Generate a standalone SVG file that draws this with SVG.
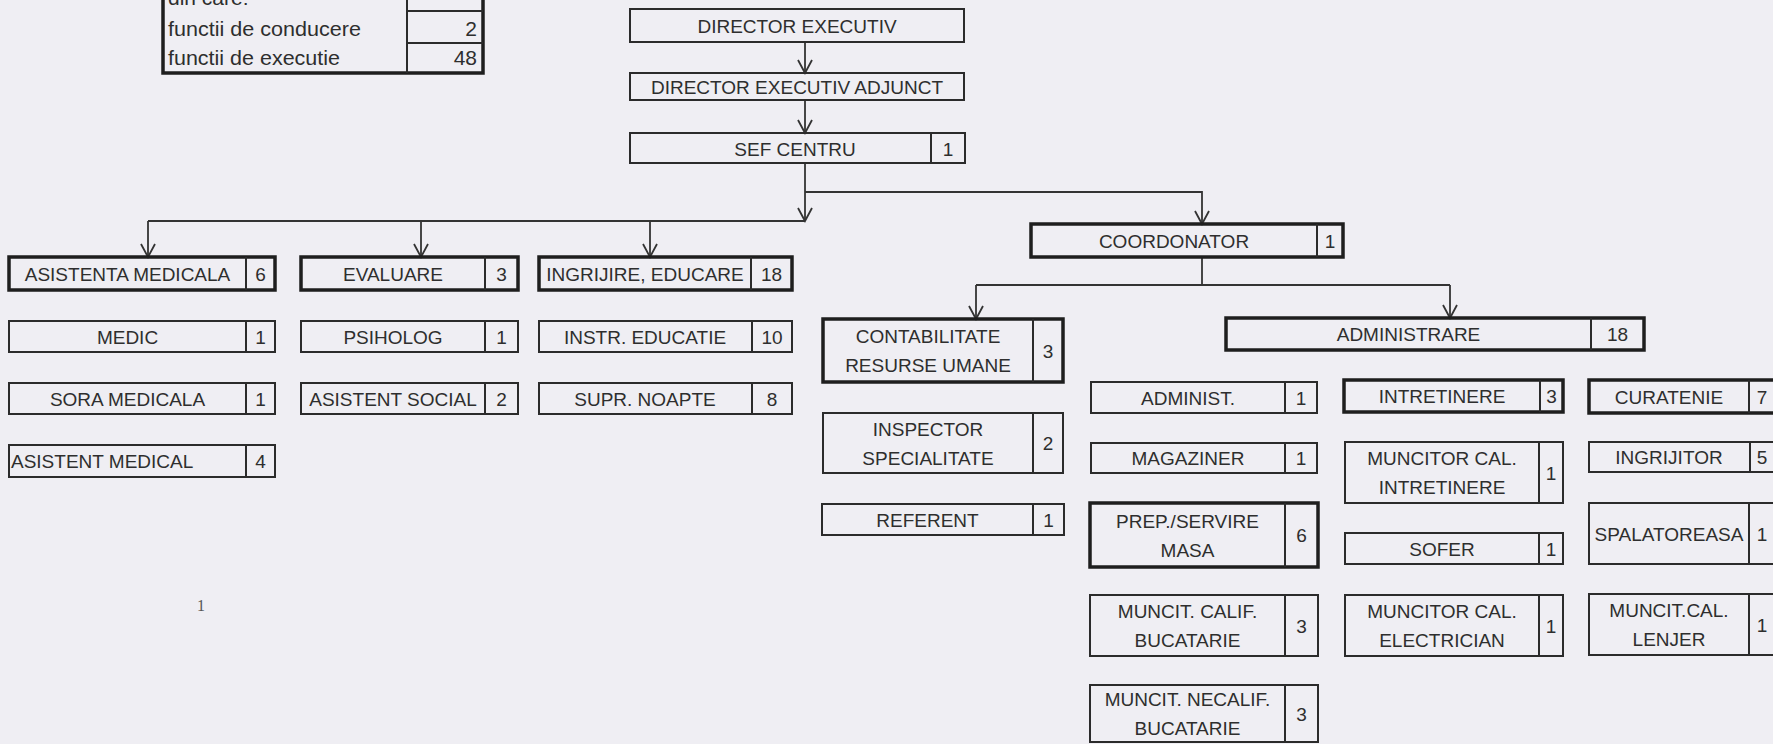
<svg xmlns="http://www.w3.org/2000/svg" width="1773" height="744" viewBox="0 0 1773 744">
<defs>
<style>
.bg{fill:#efeef3}
.thin{fill:none;stroke:#2b2b2b;stroke-width:2}
.thick{fill:none;stroke:#1e1e1e;stroke-width:3.5}
.div{stroke:#2b2b2b;stroke-width:2}
.t{font-family:"Liberation Sans",Arial,sans-serif;font-size:19px;fill:#2e2e2e;text-anchor:middle}
.l{text-anchor:start}
.tb{font-family:"Liberation Sans",Arial,sans-serif;font-size:21px;fill:#2e2e2e}
.r{text-anchor:end}
.con{fill:none;stroke:#333;stroke-width:1.8}
.pg{font-family:"Liberation Serif",serif;font-size:16px;fill:#555;text-anchor:middle}
</style>
<marker id="arr" viewBox="-15 -9 17 18" refX="0" refY="0" markerWidth="17" markerHeight="18" markerUnits="userSpaceOnUse" orient="auto">
<path d="M-13,-7 L0,0 L-13,7" fill="none" stroke="#333" stroke-width="1.8"/>
</marker>
</defs>
<rect class="bg" x="0" y="0" width="1773" height="744"/>

<g id="summary-table">
<rect class="thick" x="163" y="-10" width="320" height="83"/>
<line class="div" x1="407" y1="-10" x2="407" y2="73"/>
<line class="div" x1="407" y1="11" x2="483" y2="11"/>
<line class="div" x1="407" y1="43" x2="483" y2="43"/>
<text class="tb" x="168" y="5">din care:</text>
<text class="tb" x="168" y="36" textLength="193" lengthAdjust="spacingAndGlyphs">functii de conducere</text>
<text class="tb r" x="477" y="36">2</text>
<text class="tb" x="168" y="65" textLength="172" lengthAdjust="spacingAndGlyphs">functii de executie</text>
<text class="tb r" x="477" y="65">48</text>
</g>

<g id="connectors">
<line class="con" x1="805" y1="42" x2="805" y2="73" marker-end="url(#arr)"/>
<line class="con" x1="805" y1="100" x2="805" y2="133" marker-end="url(#arr)"/>
<line class="con" x1="805" y1="163" x2="805" y2="221" marker-end="url(#arr)"/>
<line class="con" x1="148" y1="221" x2="805" y2="221"/>
<line class="con" x1="148" y1="221" x2="148" y2="257" marker-end="url(#arr)"/>
<line class="con" x1="421" y1="221" x2="421" y2="257" marker-end="url(#arr)"/>
<line class="con" x1="650" y1="221" x2="650" y2="257" marker-end="url(#arr)"/>
<polyline class="con" points="805,192 1202,192 1202,224" marker-end="url(#arr)"/>
<line class="con" x1="1202" y1="257" x2="1202" y2="285"/>
<line class="con" x1="976" y1="285" x2="1450" y2="285"/>
<line class="con" x1="976" y1="285" x2="976" y2="319" marker-end="url(#arr)"/>
<line class="con" x1="1450" y1="285" x2="1450" y2="318" marker-end="url(#arr)"/>
</g>

<g id="n-director-executiv">
<rect class="thin" x="630" y="9" width="334" height="33"/>
<text class="t" x="797" y="32.5">DIRECTOR EXECUTIV</text>
</g>
<g id="n-director-adjunct">
<rect class="thin" x="630" y="73" width="334" height="27"/>
<text class="t" x="797" y="93.5">DIRECTOR EXECUTIV ADJUNCT</text>
</g>
<g id="n-sef-centru">
<rect class="thin" x="630" y="133" width="335" height="30"/>
<line class="div" x1="931" y1="133" x2="931" y2="163"/>
<text class="t" x="795" y="155.5">SEF CENTRU</text>
<text class="t" x="948" y="155.5">1</text>
</g>

<g id="n-asistenta-medicala">
<rect class="thick" x="9" y="257" width="266" height="33"/>
<line class="div" x1="246" y1="257" x2="246" y2="290"/>
<text class="t" x="127.5" y="280.5">ASISTENTA MEDICALA</text>
<text class="t" x="260.5" y="280.5">6</text>
</g>
<g id="n-evaluare">
<rect class="thick" x="301" y="257" width="217" height="33"/>
<line class="div" x1="485" y1="257" x2="485" y2="290"/>
<text class="t" x="393" y="280.5">EVALUARE</text>
<text class="t" x="501.5" y="280.5">3</text>
</g>
<g id="n-ingrijire-educare">
<rect class="thick" x="539" y="257" width="253" height="33"/>
<line class="div" x1="751" y1="257" x2="751" y2="290"/>
<text class="t" x="645" y="280.5">INGRIJIRE, EDUCARE</text>
<text class="t" x="771.5" y="280.5">18</text>
</g>

<g id="n-medic">
<rect class="thin" x="9" y="321" width="266" height="31"/>
<line class="div" x1="246" y1="321" x2="246" y2="352"/>
<text class="t" x="127.5" y="343.5">MEDIC</text>
<text class="t" x="260.5" y="343.5">1</text>
</g>
<g id="n-psiholog">
<rect class="thin" x="301" y="321" width="217" height="31"/>
<line class="div" x1="485" y1="321" x2="485" y2="352"/>
<text class="t" x="393" y="343.5">PSIHOLOG</text>
<text class="t" x="501.5" y="343.5">1</text>
</g>
<g id="n-instr-educatie">
<rect class="thin" x="539" y="321" width="253" height="31"/>
<line class="div" x1="752" y1="321" x2="752" y2="352"/>
<text class="t" x="645" y="343.5">INSTR. EDUCATIE</text>
<text class="t" x="772" y="343.5">10</text>
</g>

<g id="n-sora-medicala">
<rect class="thin" x="9" y="383" width="266" height="31"/>
<line class="div" x1="246" y1="383" x2="246" y2="414"/>
<text class="t" x="127.5" y="405.5">SORA MEDICALA</text>
<text class="t" x="260.5" y="405.5">1</text>
</g>
<g id="n-asistent-social">
<rect class="thin" x="301" y="383" width="217" height="31"/>
<line class="div" x1="485" y1="383" x2="485" y2="414"/>
<text class="t" x="393" y="405.5">ASISTENT SOCIAL</text>
<text class="t" x="501.5" y="405.5">2</text>
</g>
<g id="n-supr-noapte">
<rect class="thin" x="539" y="383" width="253" height="31"/>
<line class="div" x1="752" y1="383" x2="752" y2="414"/>
<text class="t" x="645" y="405.5">SUPR. NOAPTE</text>
<text class="t" x="772" y="405.5">8</text>
</g>

<g id="n-asistent-medical">
<rect class="thin" x="9" y="445" width="266" height="32"/>
<line class="div" x1="246" y1="445" x2="246" y2="477"/>
<text class="t l" x="11" y="468">ASISTENT MEDICAL</text>
<text class="t" x="260.5" y="468">4</text>
</g>

<g id="n-coordonator">
<rect class="thick" x="1031" y="224" width="312" height="33"/>
<line class="div" x1="1317" y1="224" x2="1317" y2="257"/>
<text class="t" x="1174" y="247.5">COORDONATOR</text>
<text class="t" x="1330" y="247.5">1</text>
</g>

<g id="n-contabilitate">
<rect class="thick" x="823" y="319" width="240" height="63"/>
<line class="div" x1="1033" y1="319" x2="1033" y2="382"/>
<text class="t" x="928" y="343">CONTABILITATE</text>
<text class="t" x="928" y="372">RESURSE UMANE</text>
<text class="t" x="1048" y="357.5">3</text>
</g>
<g id="n-inspector">
<rect class="thin" x="823" y="413" width="240" height="60"/>
<line class="div" x1="1033" y1="413" x2="1033" y2="473"/>
<text class="t" x="928" y="435.5">INSPECTOR</text>
<text class="t" x="928" y="464.5">SPECIALITATE</text>
<text class="t" x="1048" y="450">2</text>
</g>
<g id="n-referent">
<rect class="thin" x="822" y="504" width="242" height="31"/>
<line class="div" x1="1033" y1="504" x2="1033" y2="535"/>
<text class="t" x="927.5" y="526.5">REFERENT</text>
<text class="t" x="1048.5" y="526.5">1</text>
</g>

<g id="n-administrare">
<rect class="thick" x="1226" y="318" width="418" height="32"/>
<line class="div" x1="1591" y1="318" x2="1591" y2="350"/>
<text class="t" x="1408.5" y="341">ADMINISTRARE</text>
<text class="t" x="1617.5" y="341">18</text>
</g>

<g id="n-administ">
<rect class="thin" x="1091" y="382" width="226" height="31"/>
<line class="div" x1="1285" y1="382" x2="1285" y2="413"/>
<text class="t" x="1188" y="404.5">ADMINIST.</text>
<text class="t" x="1301" y="404.5">1</text>
</g>
<g id="n-magaziner">
<rect class="thin" x="1091" y="443" width="226" height="30"/>
<line class="div" x1="1285" y1="443" x2="1285" y2="473"/>
<text class="t" x="1188" y="465">MAGAZINER</text>
<text class="t" x="1301" y="465">1</text>
</g>
<g id="n-prep-servire">
<rect class="thick" x="1090" y="503" width="228" height="64"/>
<line class="div" x1="1285" y1="503" x2="1285" y2="567"/>
<text class="t" x="1187.5" y="527.5">PREP./SERVIRE</text>
<text class="t" x="1187.5" y="556.5">MASA</text>
<text class="t" x="1301.5" y="542">6</text>
</g>
<g id="n-muncit-calif">
<rect class="thin" x="1090" y="595" width="228" height="61"/>
<line class="div" x1="1285" y1="595" x2="1285" y2="656"/>
<text class="t" x="1187.5" y="618">MUNCIT. CALIF.</text>
<text class="t" x="1187.5" y="647">BUCATARIE</text>
<text class="t" x="1301.5" y="632.5">3</text>
</g>
<g id="n-muncit-necalif">
<rect class="thin" x="1090" y="685" width="228" height="57"/>
<line class="div" x1="1285" y1="685" x2="1285" y2="742"/>
<text class="t" x="1187.5" y="706">MUNCIT. NECALIF.</text>
<text class="t" x="1187.5" y="735">BUCATARIE</text>
<text class="t" x="1301.5" y="720.5">3</text>
</g>

<g id="n-intretinere">
<rect class="thick" x="1344" y="380" width="219" height="32"/>
<line class="div" x1="1540" y1="380" x2="1540" y2="412"/>
<text class="t" x="1442" y="403">INTRETINERE</text>
<text class="t" x="1551.5" y="403">3</text>
</g>
<g id="n-muncitor-intretinere">
<rect class="thin" x="1345" y="442" width="218" height="61"/>
<line class="div" x1="1539" y1="442" x2="1539" y2="503"/>
<text class="t" x="1442" y="465">MUNCITOR CAL.</text>
<text class="t" x="1442" y="494">INTRETINERE</text>
<text class="t" x="1551" y="479.5">1</text>
</g>
<g id="n-sofer">
<rect class="thin" x="1345" y="533" width="218" height="31"/>
<line class="div" x1="1539" y1="533" x2="1539" y2="564"/>
<text class="t" x="1442" y="555.5">SOFER</text>
<text class="t" x="1551" y="555.5">1</text>
</g>
<g id="n-muncitor-electrician">
<rect class="thin" x="1345" y="595" width="218" height="61"/>
<line class="div" x1="1539" y1="595" x2="1539" y2="656"/>
<text class="t" x="1442" y="618">MUNCITOR CAL.</text>
<text class="t" x="1442" y="647">ELECTRICIAN</text>
<text class="t" x="1551" y="632.5">1</text>
</g>

<g id="n-curatenie">
<rect class="thick" x="1589" y="380" width="195" height="33"/>
<line class="div" x1="1749" y1="380" x2="1749" y2="413"/>
<text class="t" x="1669" y="403.5">CURATENIE</text>
<text class="t" x="1762" y="403.5">7</text>
</g>
<g id="n-ingrijitor">
<rect class="thin" x="1589" y="442" width="195" height="30"/>
<line class="div" x1="1750" y1="442" x2="1750" y2="472"/>
<text class="t" x="1669" y="464">INGRIJITOR</text>
<text class="t" x="1762" y="464">5</text>
</g>
<g id="n-spalatoreasa">
<rect class="thin" x="1589" y="503" width="195" height="61"/>
<line class="div" x1="1749" y1="503" x2="1749" y2="564"/>
<text class="t" x="1669" y="540.5">SPALATOREASA</text>
<text class="t" x="1762" y="540.5">1</text>
</g>
<g id="n-muncit-lenjer">
<rect class="thin" x="1589" y="594" width="195" height="61"/>
<line class="div" x1="1749" y1="594" x2="1749" y2="655"/>
<text class="t" x="1669" y="617">MUNCIT.CAL.</text>
<text class="t" x="1669" y="646">LENJER</text>
<text class="t" x="1762" y="631.5">1</text>
</g>

<text class="pg" x="201" y="611">1</text>
</svg>
